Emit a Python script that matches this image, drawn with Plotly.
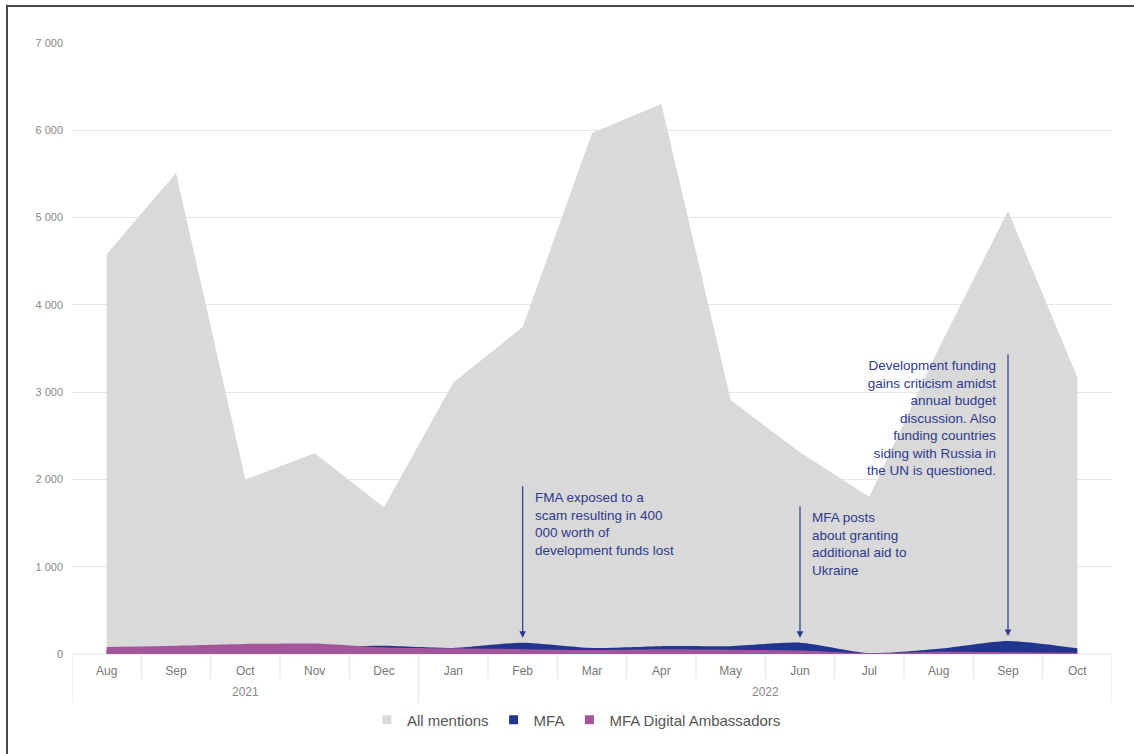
import plotly.graph_objects as go

months = ["Aug", "Sep", "Oct", "Nov", "Dec", "Jan", "Feb", "Mar", "Apr", "May", "Jun", "Jul", "Aug", "Sep", "Oct"]
years = ["2021"] * 5 + ["2022"] * 10
all_mentions = [4580, 5510, 2000, 2300, 1680, 3110, 3745, 5970, 6300, 2910, 2310, 1800, 3500, 5075, 3170]
mfa = [50, 60, 70, 80, 95, 70, 130, 70, 90, 90, 130, 10, 60, 150, 65]
mfa_da = [80, 95, 115, 120, 75, 65, 55, 45, 55, 50, 40, 8, 25, 20, 15]

events = [
    (6, 1940, "FMA exposed to a<br>scam resulting in 400<br>000 worth of<br>development funds lost", "left"),
    (10, 1710, "MFA posts<br>about granting<br>additional aid to<br>Ukraine", "left"),
    (13, 3450, "Development funding<br>gains criticism amidst<br>annual budget<br>discussion. Also<br>funding countries<br>siding with Russia in<br>the UN is questioned.", "right"),
]

x = list(range(len(months)))
FONT = "Liberation Sans"
ANN = "#2e3a8f"
series = [
    ("All mentions", all_mentions, "#d9d9d9", "linear"),
    ("MFA", mfa, "#21358e", "spline"),
    ("MFA Digital Ambassadors", mfa_da, "#a3559c", "spline"),
]

fig = go.Figure()
for name, vals, color, shape in series:
    fig.add_trace(go.Scatter(x=x, y=vals, name=name, mode="lines", showlegend=False,
                             line=dict(width=0, color=color, shape=shape, smoothing=0.6),
                             fill="tozeroy", fillcolor=color))
for name, vals, color, shape in series:
    fig.add_trace(go.Scatter(x=[None], y=[None], name=name, mode="markers",
                             marker=dict(symbol="square", size=9, color=color)))

annotations = []
for i, top, text, side in events:
    tip = mfa[i] + 55
    annotations.append(dict(x=i, y=tip, ax=i, ay=top, xref="x", yref="y", axref="x", ayref="y",
                            text="", showarrow=True, arrowhead=2, arrowsize=1.1, arrowwidth=1.2,
                            arrowcolor=ANN, standoff=0, startstandoff=0))
    if side == "left":
        annotations.append(dict(x=i + 0.15, y=top - 40, xref="x", yref="y", text=text, showarrow=False,
                                xanchor="left", yanchor="top", align="left",
                                font=dict(family=FONT, size=13.5, color=ANN)))
    else:
        annotations.append(dict(x=i - 0.15, y=top - 40, xref="x", yref="y", text=text, showarrow=False,
                                xanchor="right", yanchor="top", align="right",
                                font=dict(family=FONT, size=13.5, color=ANN)))

groups = {}
for idx, yr in enumerate(years):
    groups.setdefault(yr, []).append(idx)
for yr, idxs in groups.items():
    annotations.append(dict(x=sum(idxs) / len(idxs), y=-0.062, xref="x", yref="paper", text=yr,
                            showarrow=False, yanchor="middle",
                            font=dict(family=FONT, size=12, color="#888888")))

shapes = []
for k in range(len(months) + 1):
    xb = k - 0.5
    is_outer = k == 0 or k == len(months) or years[k - 1] != years[k]
    shapes.append(dict(type="line", xref="x", yref="paper", x0=xb, x1=xb, y0=0,
                       y1=-0.08 if is_outer else -0.041, line=dict(color="#e3e3e3", width=1)))
shapes.append(dict(type="line", xref="x", yref="paper", x0=-0.5, x1=len(months) - 0.5, y0=0, y1=0,
                   line=dict(color="#e3e3e3", width=1), layer="below"))
shapes.append(dict(type="line", xref="paper", yref="paper", x0=-0.0625, x1=-0.0625, y0=1.0625, y1=-0.164,
                   line=dict(color="#4a4a4a", width=2)))
shapes.append(dict(type="line", xref="paper", yref="paper", x0=-0.0625, x1=1.03, y0=1.0605, y1=1.0605,
                   line=dict(color="#4a4a4a", width=2)))

fig.update_layout(
    width=1134, height=754,
    margin=dict(l=72, r=22, t=43, b=100),
    paper_bgcolor="white", plot_bgcolor="white",
    separators=", ",
    font=dict(family=FONT, size=12, color="#777777"),
    showlegend=True,
    legend=dict(orientation="h", x=0.485, xanchor="center", y=-0.108, yanchor="middle",
                font=dict(family=FONT, size=15, color="#555555"), itemwidth=30, tracegroupgap=0),
    xaxis=dict(range=[-0.5, len(months) - 0.5], tickmode="array", tickvals=x, ticktext=months,
               showgrid=False, zeroline=False, showline=False, ticks="", ticklabelstandoff=8,
               tickfont=dict(family=FONT, size=12, color="#777777")),
    yaxis=dict(range=[0, 7000], tickvals=[0, 1000, 2000, 3000, 4000, 5000, 6000, 7000],
               tickformat=",d", showgrid=True, gridcolor="#e6e6e6", gridwidth=1,
               zeroline=False, showline=False, ticks="", ticklabelstandoff=8,
               tickfont=dict(family=FONT, size=11, color="#888888")),
    annotations=annotations,
    shapes=shapes,
)
fig.write_html("out.html")
